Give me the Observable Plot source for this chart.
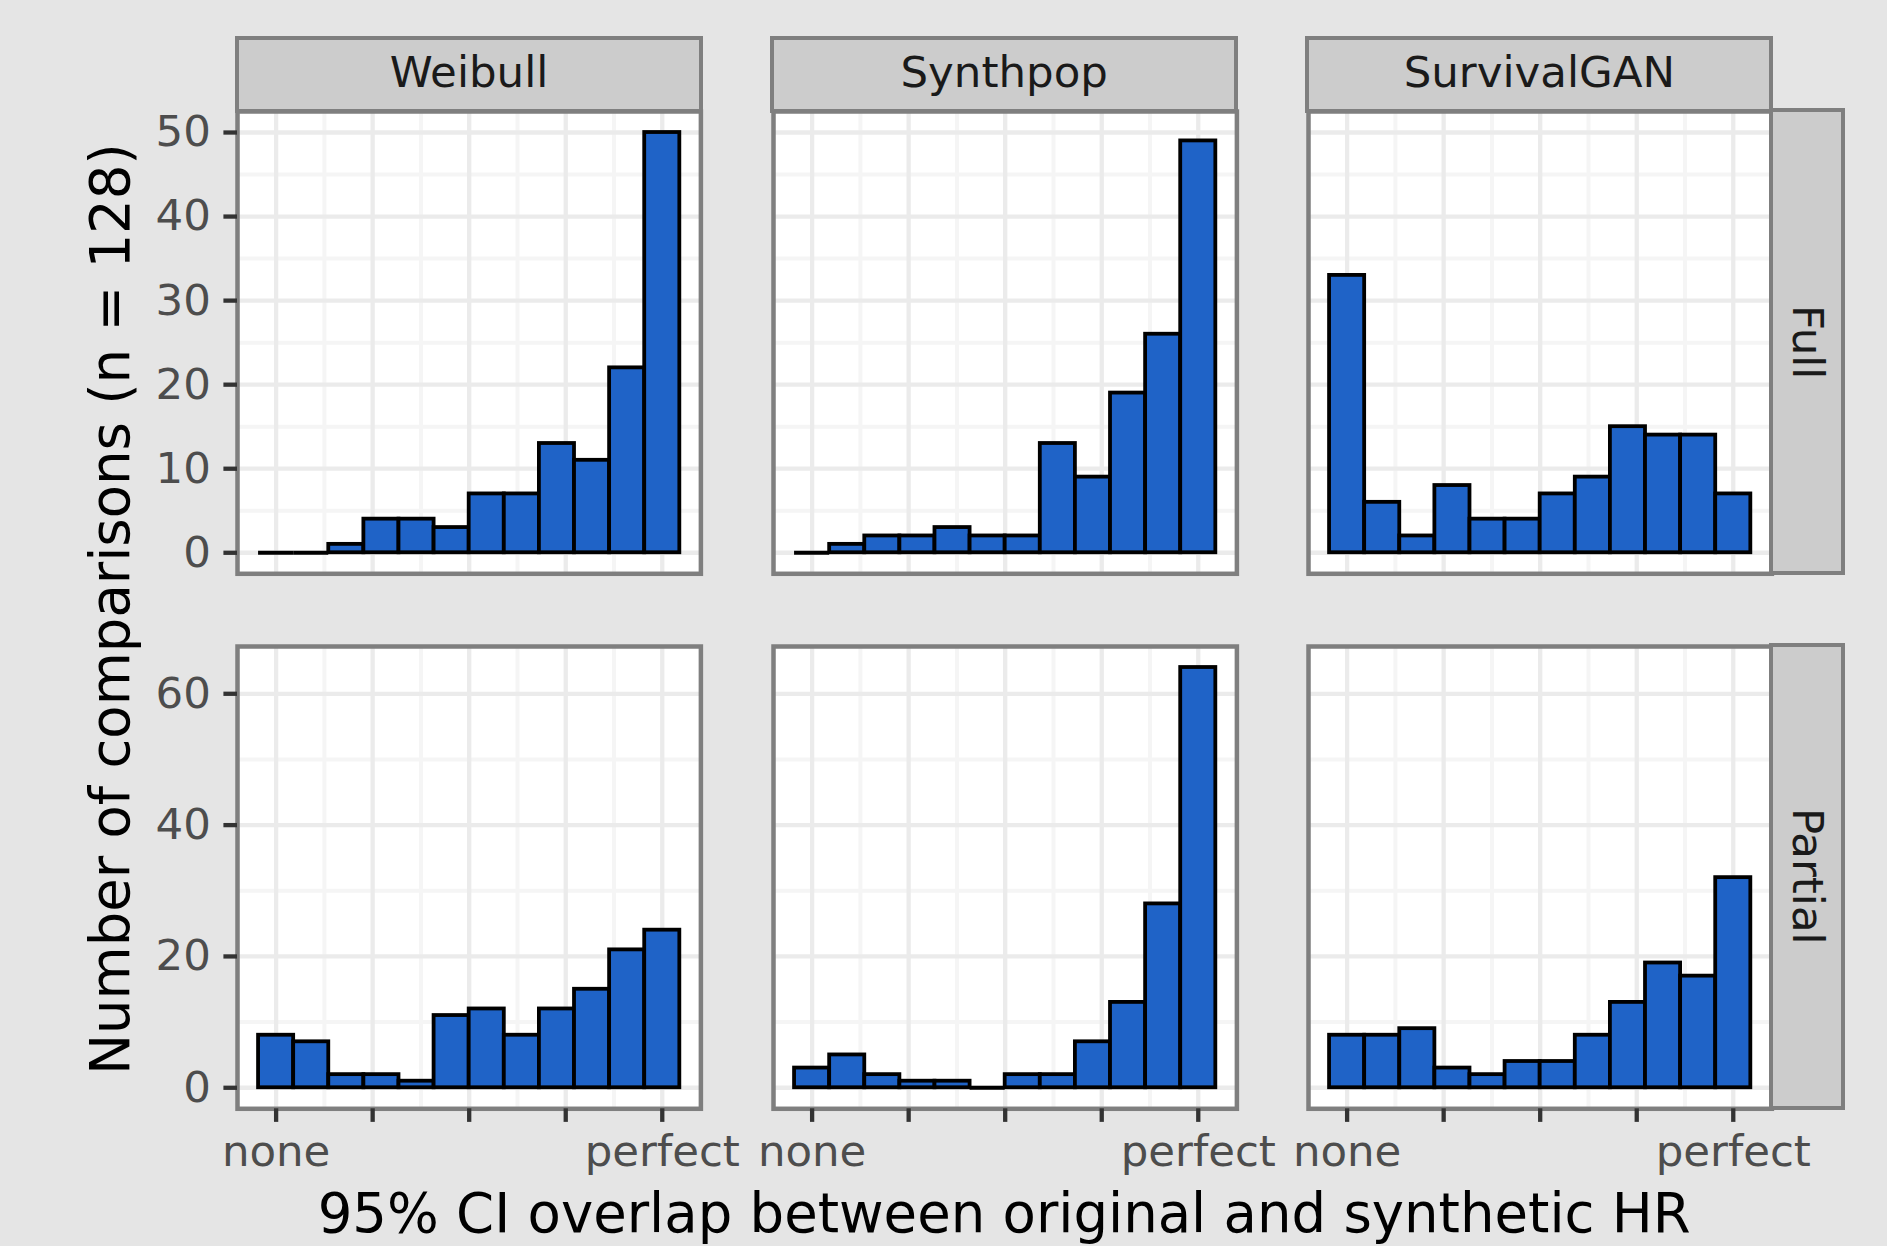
<!DOCTYPE html>
<html>
<head>
<meta charset="utf-8">
<script src="https://cdn.jsdelivr.net/npm/d3@7"></script>
<script src="https://cdn.jsdelivr.net/npm/@observablehq/plot@0.6"></script>
<style>
  html, body { margin: 0; padding: 0; background: #e5e5e5; }
  #chart { position: relative; width: 1887px; height: 1246px; background: #e5e5e5; overflow: hidden;
           font-family: "DejaVu Sans", sans-serif; }
  #chart svg { position: absolute; }
  .strip { position: absolute; box-sizing: border-box; background: #cccccc; border: 4.5px solid #7f7f7f;
           color: #1a1a1a; font-size: 43.5px; display: flex; align-items: center; justify-content: center;
           white-space: nowrap; }
  .strip.top span { position: relative; top: -3px; }
  .strip.right span { writing-mode: vertical-rl; position: relative; left: 1px; }
  .title { position: absolute; white-space: nowrap; font-size: 54.5px; line-height: 1; color: #000000; }
</style>
</head>
<body>
<div id="chart"></div>
<script>
// ---------------- data ----------------
const models = ["Weibull", "Synthpop", "SurvivalGAN"];
const variants = ["Full", "Partial"];

// histogram bin centres (overlap: 0 = none, 1 = perfect), bin width 1/11
const binCenters = [0/11, 1/11, 2/11, 3/11, 4/11, 5/11, 6/11, 7/11, 8/11, 9/11, 10/11, 11/11];
const binWidth = 1/11;

const weibullFull        = [0, 0, 1, 4, 4, 3, 7, 7, 13, 11, 22, 50];
const synthpopFull       = [0, 1, 2, 2, 3, 2, 2, 13, 9, 19, 26, 49];
const survivalganFull    = [33, 6, 2, 8, 4, 4, 7, 9, 15, 14, 14, 7];
const weibullPartial     = [8, 7, 2, 2, 1, 11, 12, 8, 12, 15, 21, 24];
const synthpopPartial    = [3, 5, 2, 1, 1, 0, 2, 2, 7, 13, 28, 64];
const survivalganPartial = [8, 8, 9, 3, 2, 4, 4, 8, 13, 19, 17, 32];

const xTickValues = [0, 0.25, 0.5, 0.75, 1];
const xTickLabels = ["none", "", "", "", "perfect"];
const xMinorTicks = [0.125, 0.375, 0.625, 0.875];

const yTicksFull = [0, 10, 20, 30, 40, 50];
const yMinorFull = [5, 15, 25, 35, 45];
const yTicksPartial = [0, 20, 40, 60];
const yMinorPartial = [10, 30, 50];

const xTitle = "95% CI overlap between original and synthetic HR";
const yTitle = "Number of comparisons (n = 128)";

// ---------------- tables built from the arrays ----------------
const countsByPanel = {
  Full:    {Weibull: weibullFull, Synthpop: synthpopFull, SurvivalGAN: survivalganFull},
  Partial: {Weibull: weibullPartial, Synthpop: synthpopPartial, SurvivalGAN: survivalganPartial}
};
const rowScale = {
  Full:    {domain: [-2.5, 52.5], ticks: yTicksFull, minor: yMinorFull},
  Partial: {domain: [-3.2, 67.2], ticks: yTicksPartial, minor: yMinorPartial}
};

// ---------------- layout ----------------
const colLeft = [237.3, 772.5, 1307.7];
const panelW = 463.4;
const rowTop = [110.7, 645.7];
const panelH = 462.3;
const stripTop = 38.7;
const stripRight = 1842.5;
const M = {l: 130, r: 30, t: 20, b: 90};
const barFill = "#1f63c7";

const chart = document.getElementById("chart");

variants.forEach((variant, r) => {
  const rs = rowScale[variant];
  models.forEach((model, c) => {
    const counts = countsByPanel[variant][model];
    const bins = binCenters.map((x, i) => ({x1: x - binWidth / 2, x2: x + binWidth / 2, y0: 0, n: counts[i]}));
    const showY = c === 0;
    const showX = r === variants.length - 1;
    const svg = Plot.plot({
      width: M.l + panelW + M.r,
      height: M.t + panelH + M.b,
      marginLeft: M.l, marginRight: M.r, marginTop: M.t, marginBottom: M.b,
      style: "background: transparent; overflow: visible; font-family: 'DejaVu Sans', sans-serif; font-size: 43.5px;",
      x: {domain: [-0.1, 1.1], axis: showX ? undefined : null},
      y: {domain: rs.domain, axis: showY ? undefined : null},
      marks: [
        Plot.frame({fill: "white", stroke: "none"}),
        Plot.ruleX(xMinorTicks, {stroke: "#f5f5f5", strokeWidth: 4}),
        Plot.ruleY(rs.minor, {stroke: "#f5f5f5", strokeWidth: 4}),
        Plot.ruleX(xTickValues, {stroke: "#ebebeb", strokeWidth: 4.3}),
        Plot.ruleY(rs.ticks, {stroke: "#ebebeb", strokeWidth: 4.3}),
        Plot.rect(bins.filter(d => d.n > 0), {
          x1: "x1", x2: "x2", y1: "y0", y2: "n", inset: 0,
          fill: barFill, stroke: "black", strokeWidth: 3.8, strokeLinejoin: "miter"
        }),
        Plot.ruleY(bins.filter(d => d.n === 0), {y: "y0", x1: "x1", x2: "x2", stroke: "black", strokeWidth: 3.8}),
        Plot.frame({stroke: "#7f7f7f", strokeWidth: 4.5}),
        showY ? Plot.axisY(rs.ticks, {
          anchor: "left", label: null, tickSize: 13.6, tickPadding: 13,
          stroke: "#333333", strokeWidth: 4.3, fill: "#4d4d4d", fontSize: 43.5,
          tickFormat: d => String(d)
        }) : null,
        showX ? Plot.axisX(xTickValues, {
          anchor: "bottom", label: null, tickSize: 13.6, tickPadding: 12.5,
          stroke: "#333333", strokeWidth: 4.3, fill: "#4d4d4d", fontSize: 43.5,
          tickFormat: d => xTickLabels[xTickValues.indexOf(d)]
        }) : null
      ]
    });
    svg.style.left = (colLeft[c] - M.l) + "px";
    svg.style.top = (rowTop[r] - M.t) + "px";
    chart.appendChild(svg);
  });
});

// top strips (facet labels for columns)
models.forEach((model, c) => {
  const d = document.createElement("div");
  d.className = "strip top";
  d.style.left = (colLeft[c] - 2.25) + "px";
  d.style.top = (stripTop - 2.25) + "px";
  d.style.width = (panelW + 4.5) + "px";
  d.style.height = (rowTop[0] - stripTop + 4.5) + "px";
  const s = document.createElement("span");
  s.textContent = model;
  d.appendChild(s);
  chart.appendChild(d);
});

// right strips (facet labels for rows)
variants.forEach((variant, r) => {
  const x0 = colLeft[2] + panelW;
  const d = document.createElement("div");
  d.className = "strip right";
  d.style.left = (x0 - 2.25) + "px";
  d.style.top = (rowTop[r] - 2.25) + "px";
  d.style.width = (stripRight - x0 + 4.5) + "px";
  d.style.height = (panelH + 4.5) + "px";
  const s = document.createElement("span");
  s.textContent = variant;
  d.appendChild(s);
  chart.appendChild(d);
});

// axis titles
const xt = document.createElement("div");
xt.className = "title";
xt.textContent = xTitle;
xt.style.left = ((colLeft[0] + colLeft[2] + panelW) / 2) + "px";
xt.style.top = (1232 - 46.1) + "px";
xt.style.transform = "translateX(-50%)";
chart.appendChild(xt);

const yt = document.createElement("div");
yt.className = "title";
yt.textContent = yTitle;
yt.style.left = "109.5px";
yt.style.top = ((rowTop[0] + rowTop[1] + panelH) / 2) + "px";
yt.style.transform = "translate(-50%, -50%) rotate(-90deg)";
chart.appendChild(yt);
</script>
</body>
</html>
